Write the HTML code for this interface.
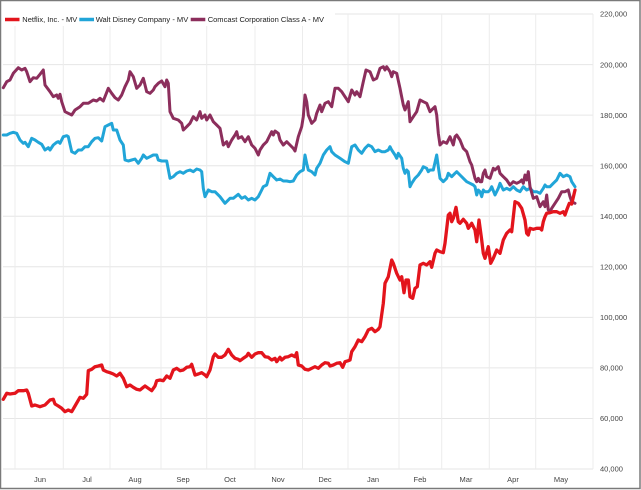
<!DOCTYPE html>
<html><head><meta charset="utf-8"><style>
html,body{margin:0;padding:0;background:#fff;}
svg{display:block;font-family:"Liberation Sans",Arial,sans-serif;}
</style></head><body>
<svg width="641" height="490" viewBox="0 0 641 490" xmlns="http://www.w3.org/2000/svg">
<rect x="0" y="0" width="641" height="490" fill="#fff"/>
<!-- horizontal gridlines -->
<g stroke="#e6e6e6" stroke-width="1">
<line x1="335" y1="14" x2="593" y2="14"/>
<line x1="3" y1="64.6" x2="593" y2="64.6"/>
<line x1="3" y1="115.1" x2="593" y2="115.1"/>
<line x1="3" y1="165.7" x2="593" y2="165.7"/>
<line x1="3" y1="216.2" x2="593" y2="216.2"/>
<line x1="3" y1="266.8" x2="593" y2="266.8"/>
<line x1="3" y1="317.4" x2="593" y2="317.4"/>
<line x1="3" y1="367.9" x2="593" y2="367.9"/>
<line x1="3" y1="418.5" x2="593" y2="418.5"/>
<line x1="3" y1="469" x2="593" y2="469"/>
</g>
<!-- vertical gridlines -->
<g stroke="#ececec" stroke-width="1">
<line x1="15" y1="26" x2="15" y2="469"/>
<line x1="63.3" y1="26" x2="63.3" y2="469"/>
<line x1="110" y1="26" x2="110" y2="469"/>
<line x1="161" y1="26" x2="161" y2="469"/>
<line x1="206.7" y1="26" x2="206.7" y2="469"/>
<line x1="255" y1="26" x2="255" y2="469"/>
<line x1="302.5" y1="26" x2="302.5" y2="469"/>
<line x1="348" y1="14" x2="348" y2="469"/>
<line x1="399" y1="14" x2="399" y2="469"/>
<line x1="441.7" y1="14" x2="441.7" y2="469"/>
<line x1="489.3" y1="14" x2="489.3" y2="469"/>
<line x1="535.7" y1="14" x2="535.7" y2="469"/>
<line x1="593" y1="14" x2="593" y2="469"/>
</g>
<!-- series -->
<g fill="none" stroke-width="3" stroke-linejoin="round" stroke-linecap="round">
<polyline stroke="#21a5d8" points="3.3,135 6.7,135 10,133.3 13.3,132.3 16.7,133.3 20,140 23.3,143.3 25,142.3 28.3,146.7 31.7,138.3 35,140 38.3,142.3 41.7,144.3 45,150 48.3,147.7 50,150 53.3,145 56.7,142.3 58.3,141.7 60,143.3 63.3,136.7 66.7,135.7 68.3,136.7 71.7,151.7 75,153.3 78.3,150 81.7,150 85,146.7 88.3,146.7 91.7,141.7 95,138.3 98.3,137.7 101.7,141 105,126.7 108.3,125 111.7,123.3 113.3,130 116.7,130 120,140 123.3,145 125,160 128.3,161 131.7,160 135,159 138.3,163.3 141.7,158.3 143.3,155 146.7,158.3 150,156.7 153.3,155 156.7,155 158.3,160 161.7,161 166.7,161 170,178.3 173.3,176.7 176.7,173.3 180,171.7 183.3,173.3 186.7,171 190,170 193.3,171.7 196.7,169 200,170 201.7,171.7 203.3,188.3 205,196.7 208.3,190 211.7,191.7 215,191.7 220,196.7 225,203.3 230,198.3 233.3,198.3 238.3,194.3 241.7,198.3 245,196.7 248.3,200 251.7,198.3 255,200 258.3,196.7 261.7,190 263.3,186.7 266.7,185 270,173.3 273.3,176.7 276.7,180 280,179 283.3,181 286.7,181 290,181.7 293.3,181 296.7,175 300,171.7 303.3,170 305,155 306.7,163.3 308.3,170 311.7,171.7 315,175 316.7,168.3 320,163.3 323.3,155 326.7,150 330,146.7 331.7,151.7 335,155 340,158.3 345,161.7 348.3,163.3 350,155 351.7,146.7 355,145 358.3,150 361.7,153.3 365,148.3 368.3,145 371.7,146.7 375,151.7 378.3,150 381.7,151.7 385,151.7 388.3,150 390,146.7 391.7,150 395,155 396.7,158.3 398.3,153.3 401.7,158.3 403.3,168.3 405,173.3 406.7,170 408.3,171.7 410,186.7 411.7,183.3 415,178.3 418.3,175 421.7,170 423.3,166.7 426.7,168.3 428.3,171.7 430,170 433.3,170 436.7,155 438.3,166.7 440,178.3 443.3,181.7 446.7,178.3 448.3,173.3 451.7,176.7 455,173.3 456.7,171.7 460,175 463.3,178.3 466.7,181.7 470,183.3 473.3,185 475,186.7 476.7,195 478.3,190 480,191.7 481.7,196.7 483.3,190 485,191.7 488.3,191.7 490,190 491.7,186.7 495,195 498.3,188.3 500,183.3 503.3,190 506.7,188.3 510,190 513.3,186.7 516.7,190 520,191.7 523.3,186.7 526.7,190 530,188.3 533.3,191.7 536.7,191.7 540,193.3 543.3,188.3 545,185 546.7,186.7 550,186.7 553.3,183.3 556.7,180 560,173.3 563.3,176.7 566.7,175 570,176.7 571.7,181.7 575,186.7"/>
<polyline stroke="#8c2e5c" points="3.3,87.7 6.7,81.7 10,80 13.3,73.3 18.3,67.7 21.7,70 25,68.3 26.7,71.7 30,81.7 33.3,77.7 36.7,78.3 40,74.3 43.3,70 45,85 50,91.7 53.3,96.7 56.7,95 58.3,98.3 60,94.3 61.7,101.7 65,111.7 68.3,113.3 71.7,115 75,110 80,106.7 83.3,103.3 88.3,103.3 93.3,100 96.7,101 100,98.3 103.3,101 108.3,88.3 111.7,93.3 115,97.7 118.3,100 121.7,95 125,86.7 128.3,80 130,71.7 133.3,76.7 136.7,88.3 140,85 143.3,78.3 146.7,91.7 150,93.3 153.3,90 155,86.7 158.3,83.3 161.7,81 165,86.7 166.7,80 168.3,83.3 170,111.7 173.3,118.3 178.3,120 181.7,123.3 183.3,130 186.7,126.7 190,123.3 193.3,116.7 196.7,120 200,111.7 201.7,118.3 205,115 206.7,120 210,115 213.3,121.7 216.7,125 220,128.3 223.3,145 226.7,141.7 228.3,146.7 231.7,140 235,135 236.7,131.7 238.3,138.3 241.7,136.7 245,141.7 248.3,136.7 251.7,145 255,148.3 258.3,155 260,150 263.3,145 266.7,141.7 270,135 271.7,131.7 273.3,135 275,131 278.3,133.3 280,140 283.3,145 286.7,141.7 290,145 293.3,148.3 295,151 298.3,136.7 301.7,126.7 303.3,116.7 305,95 306.7,101.7 308.3,115 311.7,123.3 315,120 316.7,113.3 320,105 321.7,111.7 325,103.3 328.3,101.7 331.7,106.7 335,88.3 338.3,88.3 341.7,91.7 345,96.7 348.3,101.7 351.7,90 355,95 356.7,91.7 360,96.7 363.3,81.7 366,70 370,71.7 373.3,80 376.7,78.3 380,68.3 383.3,66.7 385,70 386.7,66.7 390,71.7 391.7,76.7 393.3,71.7 396.7,73.3 400,88.3 403.3,105 405,110 408.3,101.7 410,121.7 413.3,116.7 416.7,111.7 420,100 423.3,101.7 426.7,103.3 430,111.7 433.3,108.3 435,106.7 436.7,115 438.3,133.3 440,145 443.3,141.7 446.7,143.3 450,136.7 453.3,145 455,136.7 456.7,135 460,140 463.3,148.3 466.7,151.7 470,161.7 471.7,165 475,178.3 476.7,181.7 478.3,178.3 480,181.7 481.7,181.7 483.3,173.3 485,170 486.7,176.7 490,178.3 493.3,168.3 495,170 498.3,166.7 500,173.3 503.3,176.7 506.7,180 510,185 513.3,181.7 516.7,183.3 520,181.7 521.7,180 523.3,183.3 525,175 526.7,180 528.3,171.7 530,186.7 533.3,198.3 536.7,196.7 540,206.7 543.3,201.7 545,206.7 546.7,195 548.3,210 550,211.7 551.7,208.3 555,203.3 558.3,198.3 561.7,191.7 565,191.7 568.3,190 570,196.7 571.7,201.7 575,203.3"/>
<polyline stroke="#e3141c" stroke-width="3.3" points="3.3,399.3 6.7,393.3 10,394 15,393.3 18.3,390.7 23.3,390.7 26.7,390 28.3,393.3 31.7,406 35,405 40,406.7 45,405 46.7,403.3 50,400 53.3,399.3 55,404 58.3,406 61.7,408.3 65,411.7 68.3,410 71.7,411.7 75,406 80,397.3 83.3,398.3 86.7,394.3 88.3,370.7 91.7,369.3 95,366.7 98.3,366 101.7,365 103.3,370 106.7,371.7 110,372.7 113.3,374 116.7,376 120,373.3 123.3,378.3 126.7,386.7 130,385 133.3,387.3 136.7,389.3 140,390 143.3,387.3 145,386 148.3,388.3 151.7,390.7 155,386 156.7,380.7 160,380 163.3,380.7 166.7,376 170,378.3 173.3,370 176.7,368.3 180,370.7 183.3,370 186.7,367.3 190,366.7 191.7,364.3 195,375 198.3,374 201.7,372.7 205,375 206.7,376.7 210,370 213.3,356.7 215,354 218.3,357.3 221.7,357.3 225,355 228.3,349.3 231.7,355 235,358.3 238.3,359.3 240,360.7 243.3,358.3 246.7,356 248.3,353.3 251.7,357.3 255,354 258.3,352.7 261.7,352.7 265,356.7 268.3,357.3 271.7,360 275,358.3 276.7,361.7 280,357.3 281.7,360 285,357.3 288.3,356.7 291.7,355 295,356.7 296.7,352.7 298.3,365 301.7,366 305,369.3 308.3,370 311.7,368.3 315,366.7 318.3,368.3 321.7,365 325,362.7 328.3,363.3 330,366 333.3,365 336.7,363.3 340,362.7 342.7,367.3 345,361.7 348.3,360.7 350,360 351.7,351.7 355,346.7 358.3,340 361.7,341.7 365,336.7 368.3,330 371.7,328.3 375,331.7 378.3,329.3 380,326.7 383.3,303.3 385,283.3 388.3,276.7 391.7,260 393.3,263.3 396.7,273.3 400,280 401.7,276.7 404,292.7 406,280 408.3,280 410,296.7 412.7,298.3 415,288.3 417.3,286.7 420,265 423.3,263.3 426.7,265 430,261.7 431.7,267.3 435,253.3 436.7,250 440,251.7 443.3,252.7 445,243.3 448.3,215 450,213.3 451.7,221.7 453.3,218.3 456,207.3 458.3,221.7 460,223.3 463.3,219.3 466.7,223.3 468.3,228.3 471.7,223.3 475,230 476.7,241.7 479,220 481.7,240 483.3,253.3 485,258.3 488.3,246.7 490.7,263.3 493.3,258.3 496.7,250 500,253.3 503.3,240 506.7,233.3 510,230 511.7,231.7 515,201.7 518.3,203.3 521.7,208.3 525,220 526.7,233.3 528.3,235 530,228.3 533.3,229.3 536.7,228.3 540,228.3 541.7,230 543.3,221.7 545,216.7 546.7,213.3 550,212.7 553.3,211.7 556.7,211.7 560,213.3 563.3,211.7 565,215 566.7,210 569.3,203.3 571.7,204 575,190"/>
</g>
<!-- legend -->
<g>
<line x1="5" y1="19.5" x2="19.5" y2="19.5" stroke="#e3141c" stroke-width="3.5"/>
<text x="22.3" y="22.2" font-size="7.6" fill="#222" textLength="55" lengthAdjust="spacingAndGlyphs">Netflix, Inc. - MV</text>
<line x1="79.3" y1="19.5" x2="94" y2="19.5" stroke="#21a5d8" stroke-width="3.5"/>
<text x="95.7" y="22.2" font-size="7.6" fill="#222" textLength="92.6" lengthAdjust="spacingAndGlyphs">Walt Disney Company - MV</text>
<line x1="190.7" y1="19.5" x2="205.3" y2="19.5" stroke="#8c2e5c" stroke-width="3.5"/>
<text x="207.7" y="22.2" font-size="7.6" fill="#222" textLength="116.3" lengthAdjust="spacingAndGlyphs">Comcast Corporation Class A - MV</text>
</g>
<!-- y axis labels -->
<g font-size="7.5" fill="#444">
<text x="600" y="16.7">220,000</text>
<text x="600" y="67.3">200,000</text>
<text x="600" y="117.8">180,000</text>
<text x="600" y="168.4">160,000</text>
<text x="600" y="218.9">140,000</text>
<text x="600" y="269.5">120,000</text>
<text x="600" y="320.1">100,000</text>
<text x="600" y="370.6">80,000</text>
<text x="600" y="421.2">60,000</text>
<text x="600" y="471.7">40,000</text>
</g>
<!-- x axis labels -->
<g font-size="7.5" fill="#444" text-anchor="middle">
<text x="40" y="482">Jun</text>
<text x="87" y="482">Jul</text>
<text x="135" y="482">Aug</text>
<text x="183" y="482">Sep</text>
<text x="230" y="482">Oct</text>
<text x="278" y="482">Nov</text>
<text x="325" y="482">Dec</text>
<text x="373" y="482">Jan</text>
<text x="420" y="482">Feb</text>
<text x="466" y="482">Mar</text>
<text x="513" y="482">Apr</text>
<text x="561" y="482">May</text>
</g>
<!-- outer border -->
<rect x="0.5" y="0.5" width="639.5" height="488" fill="none" stroke="#7a7a7a" stroke-width="1.5"/>
</svg>
</body></html>
